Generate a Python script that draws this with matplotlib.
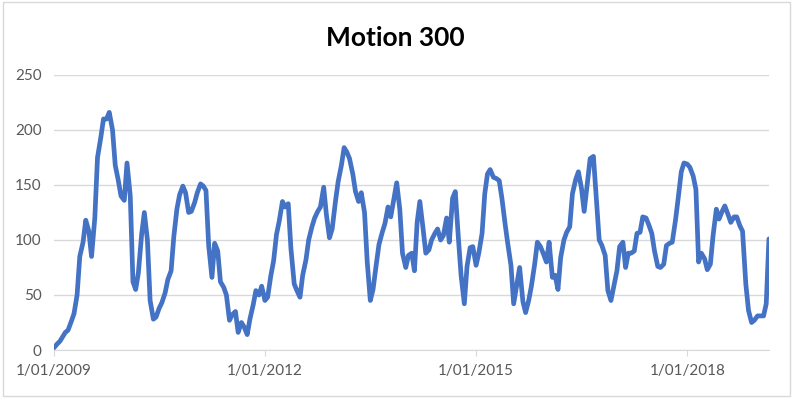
import numpy as np
import pandas as pd
import matplotlib
matplotlib.use("Agg")
import matplotlib.pyplot as plt
import matplotlib.dates as mdates
from matplotlib.patches import Rectangle


# ==================================================
# Data (semi-monthly readings, Jan 2009 - Mar 2019)
# ==================================================

start = "2009-01-01"

motion = [
    2, 5, 8, 12, 16, 18, 26, 33, 50, 85,
    98, 118, 108, 85, 120, 175, 193, 210, 210, 216,
    200, 168, 154, 140, 136, 170, 140, 62, 55, 70,
    105, 125, 100, 45, 28, 30, 38, 43, 52, 64,
    72, 103, 128, 141, 149, 143, 125, 126, 134, 143,
    151, 149, 145, 95, 66, 97, 90, 62, 57, 50,
    27, 32, 35, 16, 25, 21, 14, 28, 41, 54,
    50, 58, 45, 48, 68, 81, 105, 117, 135, 130,
    133, 92, 60, 54, 48, 68, 82, 100, 112, 120,
    126, 130, 148, 123, 102, 110, 135, 153, 168, 184,
    180, 174, 160, 144, 135, 143, 125, 80, 45, 55,
    78, 96, 107, 115, 130, 121, 138, 152, 128, 88,
    75, 86, 88, 72, 116, 135, 110, 88, 91, 100,
    106, 110, 100, 104, 120, 98, 138, 144, 102, 68,
    42, 76, 93, 94, 77, 88, 106, 142, 160, 164,
    157, 156, 154, 138, 114, 96, 77, 42, 60, 75,
    44, 34, 45, 58, 78, 98, 94, 88, 80, 98,
    66, 68, 55, 84, 100, 107, 112, 142, 155, 162,
    147, 126, 152, 174, 176, 140, 100, 95, 86, 54,
    45, 57, 72, 94, 98, 75, 88, 88, 90, 106,
    107, 121, 120, 114, 106, 90, 76, 75, 78, 95,
    97, 98, 118, 138, 162, 170, 169, 166, 158, 146,
    80, 88, 83, 73, 78, 104, 128, 119, 126, 131,
    123, 116, 121, 121, 113, 108, 60, 36, 25, 27,
    31, 31, 31, 42, 101,
]

dates = pd.date_range(start, periods=len(motion), freq="SMS")

tick_dates = pd.to_datetime(["2009-01-01", "2012-01-01", "2015-01-01", "2018-01-01"])
tick_labels = ["1/01/2009", "1/01/2012", "1/01/2015", "1/01/2018"]
y_ticks = [0, 50, 100, 150, 200, 250]


# ==================================================
# Plot
# ==================================================

plt.rcParams["font.family"] = ["Lato", "DejaVu Sans"]

fig = plt.figure(figsize=(7.96, 3.98), dpi=100)

# light chart border like Excel
fig.patches.append(
    Rectangle((0.004, 0.006), 0.988, 0.988, transform=fig.transFigure,
              fill=False, edgecolor="#d9d9d9", linewidth=1)
)

ax = fig.add_axes([0.0678, 0.1206, 0.8982, 0.691])

ax.plot(dates, motion, color="#4472C4", linewidth=3.4,
        solid_joinstyle="round", solid_capstyle="round")

ax.set_xlim(dates[0], dates[-1])
ax.set_ylim(0, 250)
ax.set_yticks(y_ticks)
ax.set_xticks(tick_dates)
ax.set_xticklabels(tick_labels)

ax.grid(axis="y", color="#d9d9d9", linewidth=1)
ax.set_axisbelow(True)

for s in ["top", "right", "left"]:
    ax.spines[s].set_visible(False)
ax.spines["bottom"].set_color("#d9d9d9")

ax.tick_params(axis="y", length=0, labelsize=11, labelcolor="#595959", pad=9)
ax.tick_params(axis="x", length=4, color="#d9d9d9", labelsize=11,
               labelcolor="#595959", pad=6)

fig.text(0.497, 0.905, "Motion 300", ha="center", va="center",
         fontsize=19, fontweight="bold", color="#000000")

fig.savefig("out.png", dpi=100)
plt.close(fig)
